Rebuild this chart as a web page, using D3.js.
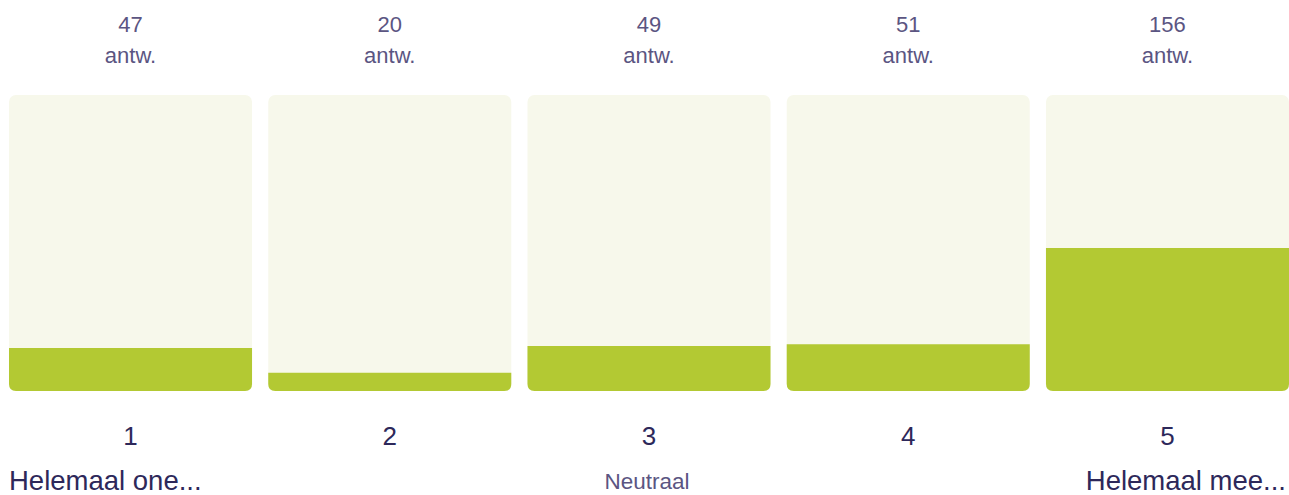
<!DOCTYPE html>
<html><head><meta charset="utf-8">
<script src="https://cdn.jsdelivr.net/npm/d3@7"></script>
<style>html,body{margin:0;padding:0;background:#fff;}svg{display:block;font-family:"Liberation Sans",Arial,sans-serif;}</style>
</head><body>
<svg id="c" width="1289" height="495"></svg>
<script>
const categories = ["1","2","3","4","5"];
const counts = [47, 20, 49, 51, 156];
const unitLabel = "antw.";
const scaleLabels = ["Helemaal one...", "Neutraal", "Helemaal mee..."];

const W = 1289, H = 495;
const svg = d3.select("#c");
const total = d3.sum(counts);
const x = d3.scaleBand().domain(categories).range([9, 1289]).paddingInner(16/256).paddingOuter(0);
const y = d3.scaleLinear().domain([0, total]).range([391, 95]);
const r = 7;
const bw = x.bandwidth();

function bottomRounded(x0, y0, w, h, rr) {
  rr = Math.min(rr, h, w/2);
  return `M${x0},${y0}H${x0+w}V${y0+h-rr}Q${x0+w},${y0+h} ${x0+w-rr},${y0+h}H${x0+rr}Q${x0},${y0+h} ${x0},${y0+h-rr}Z`;
}

const g = svg.append("g");
categories.forEach((c, i) => {
  const x0 = x(c);
  g.append("rect").attr("x", x0).attr("y", y(total)).attr("width", bw)
    .attr("height", y(0) - y(total)).attr("rx", r).attr("fill", "#f7f8eb");
  g.append("path").attr("d", bottomRounded(x0, y(counts[i]), bw, y(0) - y(counts[i]), r))
    .attr("fill", "#b3c933");
  const cx = x0 + bw/2;
  g.append("text").attr("x", cx).attr("y", 32).attr("text-anchor", "middle")
    .attr("font-size", 22).attr("fill", "#5b5582").text(counts[i]);
  g.append("text").attr("x", cx).attr("y", 63).attr("text-anchor", "middle")
    .attr("font-size", 22).attr("fill", "#5b5582").text(unitLabel);
  g.append("text").attr("x", cx).attr("y", 445).attr("text-anchor", "middle")
    .attr("font-size", 26).attr("fill", "#2d285a").text(c);
});
svg.append("text").attr("x", 9).attr("y", 490).attr("font-size", 27.5).attr("fill", "#2d285a").text(scaleLabels[0]);
svg.append("text").attr("x", x("3") + bw/2 - 2).attr("y", 489).attr("text-anchor", "middle").attr("font-size", 22.5).attr("fill", "#5b5582").text(scaleLabels[1]);
svg.append("text").attr("x", 1286).attr("y", 490).attr("text-anchor", "end").attr("font-size", 27.5).attr("fill", "#2d285a").text(scaleLabels[2]);
</script>
</body></html>
